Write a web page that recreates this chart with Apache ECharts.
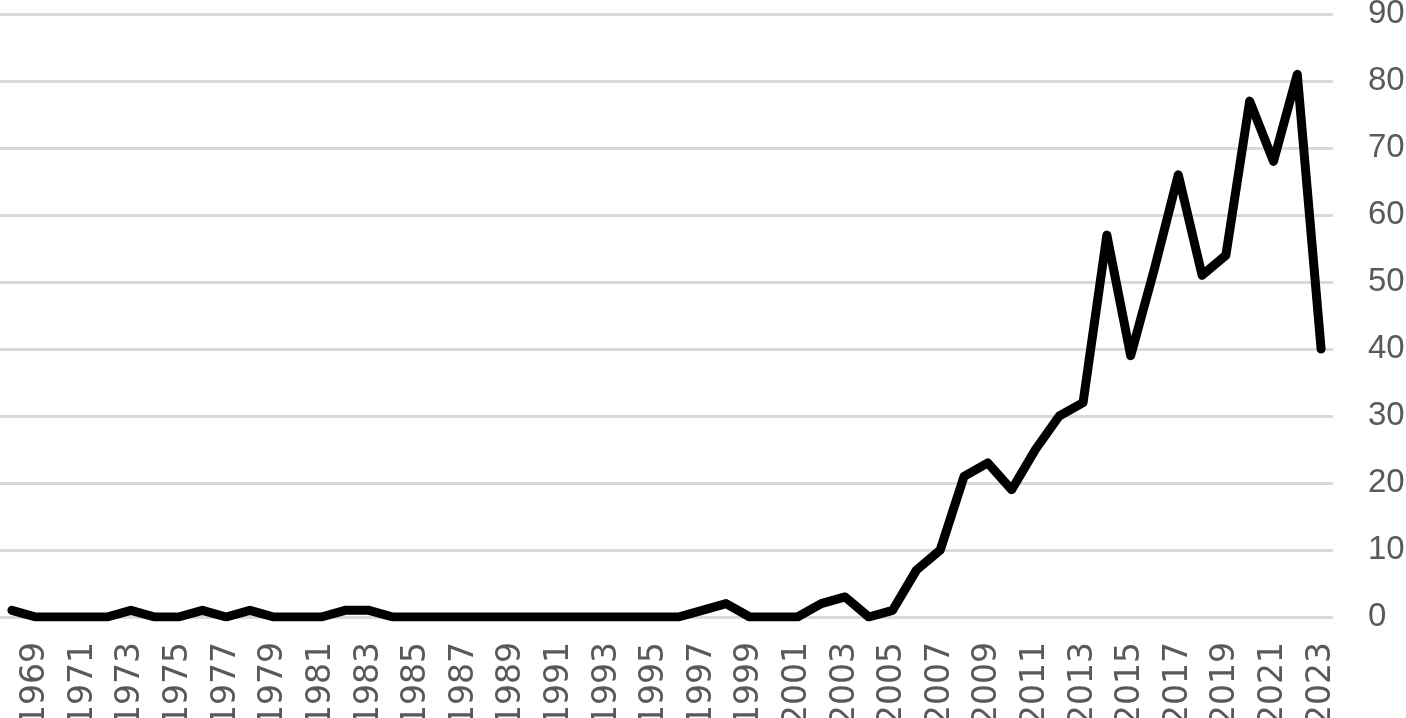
<!DOCTYPE html>
<html>
<head>
<meta charset="utf-8">
<script src="https://cdn.jsdelivr.net/npm/echarts@6/dist/echarts.min.js"></script>
<style>
html,body{margin:0;padding:0;background:#fff;}
#chart{width:1406px;height:718px;}
</style>
</head>
<body>
<div id="chart"></div>
<script>
var years = [];
for (var y = 1968; y <= 2023; y++) years.push(String(y));
var counts = [
  1, 0, 0, 0, 0, 1, 0, 0, 1, 0,
  1, 0, 0, 0, 1, 1, 0, 0, 0, 0,
  0, 0, 0, 0, 0, 0, 0, 0, 0, 1,
  2, 0, 0, 0, 2, 3, 0, 1, 7, 10,
  21, 23, 19, 25, 30, 32, 57, 39, 52, 66,
  51, 54, 77, 68, 81, 40
];
var yTicks = { min: 0, max: 90, interval: 10 };

var chart = echarts.init(document.getElementById('chart'));
chart.setOption({
  animation: false,
  grid: { left: 0, top: 14, right: 73, bottom: 101, containLabel: false, outerBoundsMode: 'none' },
  xAxis: {
    type: 'category',
    data: years,
    boundaryGap: true,
    axisLine: { show: false },
    axisTick: { show: false },
    axisLabel: {
      rotate: 90,
      margin: 25,
      interval: function (idx) { return idx % 2 === 1; },
      color: '#595959',
      fontSize: 33,
      fontFamily: 'DejaVu Sans, sans-serif'
    }
  },
  yAxis: {
    type: 'value',
    position: 'right',
    min: yTicks.min,
    max: yTicks.max,
    interval: yTicks.interval,
    axisLine: { show: false },
    axisTick: { show: false },
    splitLine: { lineStyle: { color: '#d9d9d9', width: 3 } },
    axisLabel: {
      margin: 35,
      color: '#595959',
      fontSize: 33,
      fontFamily: 'Liberation Sans, Arial, sans-serif'
    }
  },
  series: [{
    type: 'line',
    data: counts,
    symbol: 'none',
    lineStyle: { color: '#000', width: 9, cap: 'round', join: 'round' }
  }]
});
</script>
</body>
</html>
